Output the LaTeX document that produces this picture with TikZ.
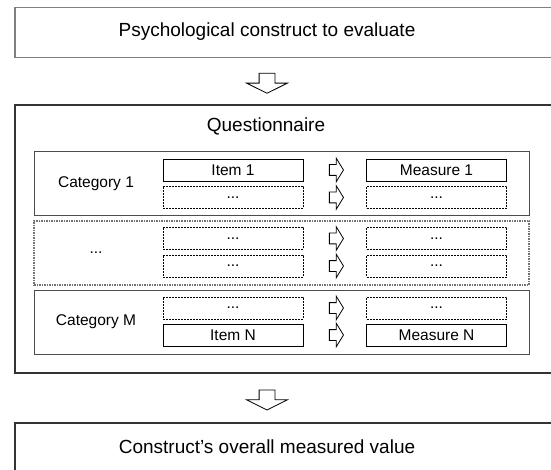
\documentclass[tikz,border=0pt]{standalone}
\usepackage{fontspec}
\setmainfont{Liberation Sans}
\usetikzlibrary{shapes.arrows,calc}

\begin{document}
\begin{tikzpicture}[x=1pt,y=-1pt,
  outerbox/.style={draw=black!80, line width=1.2pt, minimum width=560, minimum height=50},
  catbox/.style={draw=black!70, line width=1pt, minimum width=495, minimum height=64},
  catdots/.style={draw=black!55, line width=1.1pt, dash pattern=on 1.5pt off 1pt, minimum width=495, minimum height=64},
  itembox/.style={draw, line width=0.8pt, minimum width=140, minimum height=22, font=\smalltxt},
  dotbox/.style={itembox, dash pattern=on 2pt off 1pt},
  bigtxt/.style={font=\fontsize{19}{23}\selectfont},
  cattxt/.style={font=\smalltxt},
  bigarrow/.style={single arrow, draw, line width=0.8pt, inner sep=7.5pt, minimum height=20,
    single arrow head extend=12.5, single arrow tip angle=127, shape border rotate=270},
  smallarrow/.style={single arrow, draw, line width=0.8pt, inner sep=5pt, minimum height=12,
    single arrow head extend=6.5, single arrow tip angle=117}]
  \providecommand\smalltxt{\fontsize{15.5}{18}\selectfont}
  \useasboundingbox (0,0) rectangle (551,470);

  % outer frames
  \node[outerbox, draw=black!50, line width=1.5pt] (top) at (295,32.5) {};
  \node[outerbox, minimum height=268] (quest) at (295,239) {};
  \node[outerbox] (result) at (295,448) {};
  \node[bigtxt] (ttop) at (267,32) {Psychological construct to evaluate};
  \node[bigtxt] (tquest) at (266,126) {Questionnaire};
  \node[bigtxt] (tresult) at (267,447) {Construct's overall measured value};

  % categories
  \node[catbox] (cat1) at (281.5,184) {};
  \node[catdots] (catd) at (281.5,253) {};
  \node[catbox] (catm) at (281.5,322) {};
  \node[cattxt] (tcat1) at (96,184) {Category 1};
  \node[cattxt] (tcatd) at (96,253) {...};
  \node[cattxt] (tcatm) at (96,322) {Category M};

  % items and measures
  \node[itembox] (i1) at (233,170) {Item 1};
  \node[dotbox] (i2) at (233,197.5) {...};
  \node[dotbox] (i3) at (233,238.5) {...};
  \node[dotbox] (i4) at (233,266) {...};
  \node[dotbox] (i5) at (233,308) {...};
  \node[itembox] (i6) at (233,335) {Item N};
  \node[itembox] (m1) at (436.5,170) {Measure 1};
  \node[dotbox] (m2) at (436.5,197.5) {...};
  \node[dotbox] (m3) at (436.5,238.5) {...};
  \node[dotbox] (m4) at (436.5,266) {...};
  \node[dotbox] (m5) at (436.5,308) {...};
  \node[itembox] (m6) at (436.5,335) {Measure N};
  \foreach \n in {1,...,6}
    \node[smallarrow] (a\n) at ($(i\n.east)!0.5!(m\n.west)$) {};

  % flow between frames
  \path (top.south -| ttop) -- (quest.north -| ttop) node[midway, bigarrow] (down1) {};
  \path (quest.south -| ttop) -- (result.north -| ttop) node[midway, bigarrow] (down2) {};
\end{tikzpicture}
\end{document}
